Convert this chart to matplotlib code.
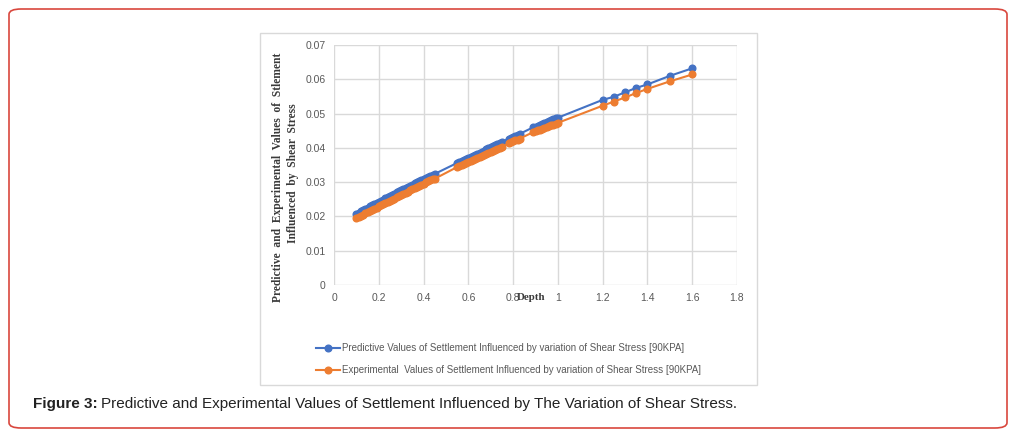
import matplotlib
matplotlib.use("Agg")
import matplotlib.pyplot as plt
from matplotlib.patches import FancyBboxPatch, Rectangle

# depth values (x), grouped as the point clusters appear
depth_a = [0.10, 0.11, 0.12, 0.13, 0.14, 0.15, 0.16, 0.17, 0.18, 0.19,
           0.20, 0.21, 0.22, 0.23, 0.24, 0.25, 0.26, 0.27, 0.28, 0.29,
           0.30, 0.31, 0.32, 0.33, 0.34, 0.35, 0.36, 0.37, 0.38, 0.39,
           0.40, 0.41, 0.42, 0.43, 0.44, 0.45]
depth_b = [0.55, 0.56, 0.57, 0.58, 0.59, 0.60, 0.61, 0.62, 0.63, 0.64,
           0.65, 0.66, 0.67, 0.68, 0.69, 0.70, 0.71, 0.72, 0.73, 0.74, 0.75]
depth_c = [0.78, 0.79, 0.80, 0.81, 0.82, 0.83]
depth_d = [0.89, 0.90, 0.91, 0.92, 0.93, 0.94, 0.95, 0.96, 0.97, 0.98, 0.99, 1.00]
depth_e = [1.20, 1.25, 1.30, 1.35, 1.40, 1.50, 1.60]

pred_a = [0.0208, 0.0211, 0.0215, 0.0218, 0.0222, 0.0225, 0.0229, 0.0232, 0.0236, 0.0239,
          0.0243, 0.0246, 0.0249, 0.0253, 0.0256, 0.0260, 0.0263, 0.0266, 0.0270, 0.0273,
          0.0276, 0.0280, 0.0283, 0.0287, 0.0290, 0.0293, 0.0297, 0.0300, 0.0303, 0.0307,
          0.0310, 0.0313, 0.0316, 0.0319, 0.0322, 0.0324]
pred_b = [0.0356, 0.0359, 0.0362, 0.0365, 0.0368, 0.0371, 0.0374, 0.0377, 0.0380, 0.0383,
          0.0386, 0.0389, 0.0392, 0.0396, 0.0399, 0.0402, 0.0405, 0.0408, 0.0411, 0.0414, 0.0417]
pred_c = [0.0427, 0.0430, 0.0433, 0.0436, 0.0438, 0.0441]
pred_d = [0.0460, 0.0462, 0.0465, 0.0468, 0.0471, 0.0473, 0.0476, 0.0478, 0.0481, 0.0483,
          0.0486, 0.0488]
pred_e = [0.0540, 0.0549, 0.0562, 0.0575, 0.0585, 0.0610, 0.0632]

exp_a = [0.0195, 0.0198, 0.0202, 0.0205, 0.0209, 0.0212, 0.0216, 0.0219, 0.0222, 0.0226,
         0.0229, 0.0232, 0.0236, 0.0239, 0.0242, 0.0246, 0.0249, 0.0252, 0.0256, 0.0259,
         0.0262, 0.0266, 0.0269, 0.0272, 0.0276, 0.0279, 0.0282, 0.0286, 0.0289, 0.0292,
         0.0295, 0.0299, 0.0302, 0.0305, 0.0308, 0.0310]
exp_b = [0.0344, 0.0347, 0.0350, 0.0353, 0.0356, 0.0359, 0.0362, 0.0365, 0.0368, 0.0371,
         0.0374, 0.0377, 0.0380, 0.0383, 0.0386, 0.0388, 0.0391, 0.0394, 0.0397, 0.0400, 0.0403]
exp_c = [0.0413, 0.0416, 0.0419, 0.0422, 0.0424, 0.0427]
exp_d = [0.0446, 0.0448, 0.0451, 0.0453, 0.0456, 0.0458, 0.0461, 0.0463, 0.0466, 0.0468,
         0.0471, 0.0473]
exp_e = [0.0523, 0.0535, 0.0547, 0.0560, 0.0572, 0.0594, 0.0614]

depth = depth_a + depth_b + depth_c + depth_d + depth_e
predictive = pred_a + pred_b + pred_c + pred_d + pred_e
experimental = exp_a + exp_b + exp_c + exp_d + exp_e

x_ticks = [0, 0.2, 0.4, 0.6, 0.8, 1, 1.2, 1.4, 1.6, 1.8]
x_labels = ["0", "0.2", "0.4", "0.6", "0.8", "1", "1.2", "1.4", "1.6", "1.8"]
y_ticks = [0, 0.01, 0.02, 0.03, 0.04, 0.05, 0.06, 0.07]
y_labels = ["0", "0.01", "0.02", "0.03", "0.04", "0.05", "0.06", "0.07"]

label_pred = "Predictive Values of Settlement Influenced by variation of Shear Stress [90KPA]"
label_exp = "Experimental  Values of Settlement Influenced by variation of Shear Stress [90KPA]"

W, H = 1021, 441
fig = plt.figure(figsize=(W / 100, H / 100), dpi=100)


def fx(px):
    return px / W


def fy(py):
    return 1 - py / H


# red rounded frame around the figure
frame = FancyBboxPatch((fx(9), fy(428)), fx(998), (428 - 9) / H,
                       boxstyle="round,pad=0,rounding_size=0.012",
                       transform=fig.transFigure, fill=False,
                       edgecolor="#d9473d", linewidth=1.2)
fig.patches.append(frame)

# light border of the embedded chart picture
chart_box = Rectangle((fx(260), fy(385)), fx(497), (385 - 33) / H,
                      transform=fig.transFigure, fill=False,
                      edgecolor="#d9d9d9", linewidth=1.0)
fig.patches.append(chart_box)

ax = fig.add_axes([fx(334), fy(285), fx(403), 240 / H])
ax.plot(depth, predictive, "-o", color="#4472c4", markersize=4.8, linewidth=1.5,
        label=label_pred)
ax.plot(depth, experimental, "-o", color="#ed7d31", markersize=4.8, linewidth=1.5,
        label=label_exp)

ax.set_xlim(0, 1.8)
ax.set_ylim(0, 0.07)
ax.set_xticks(x_ticks)
ax.set_xticklabels(x_labels)
ax.set_yticks(y_ticks)
ax.set_yticklabels(y_labels)
ax.grid(True, color="#d9d9d9", linewidth=1.0)
ax.set_axisbelow(True)
for s in ax.spines.values():
    s.set_visible(False)
ax.tick_params(length=0, labelsize=7.5, labelcolor="#595959", pad=6)
for t in ax.get_xticklabels() + ax.get_yticklabels():
    t.set_fontfamily("Liberation Sans")

# axis titles placed as in the picture
fig.text(fx(278), fy(177), "Predictive  and  Experimental  Values  of  Stlement",
         rotation=90, ha="center", va="center", fontsize=8.3,
         fontfamily="Liberation Serif", fontweight="bold", color="#3a3a3a")
fig.text(fx(293), fy(173), "Influenced  by  Shear  Stress",
         rotation=90, ha="center", va="center", fontsize=8.3,
         fontfamily="Liberation Serif", fontweight="bold", color="#3a3a3a")
fig.text(fx(531), fy(298), "Depth", ha="center", va="center", fontsize=7.8,
         fontfamily="Liberation Serif", fontweight="bold", color="#3a3a3a")

leg = fig.legend(loc="upper left", bbox_to_anchor=(fx(316), fy(343)),
                 frameon=False, handlelength=2.5, handletextpad=0.15,
                 labelspacing=1.25, borderpad=0, borderaxespad=0,
                 prop={"family": "Liberation Sans", "size": 7.0})
for t in leg.get_texts():
    t.set_color("#595959")

fig.text(fx(33), fy(404), "Figure 3:", fontsize=11, fontweight="bold",
         fontfamily="Liberation Sans", va="center", color="#222222")
fig.text(fx(101), fy(404),
         "Predictive and Experimental Values of Settlement Influenced by The Variation of Shear Stress.",
         fontsize=11, fontfamily="Liberation Sans", va="center", color="#222222")

fig.savefig("out.png", dpi=100)
